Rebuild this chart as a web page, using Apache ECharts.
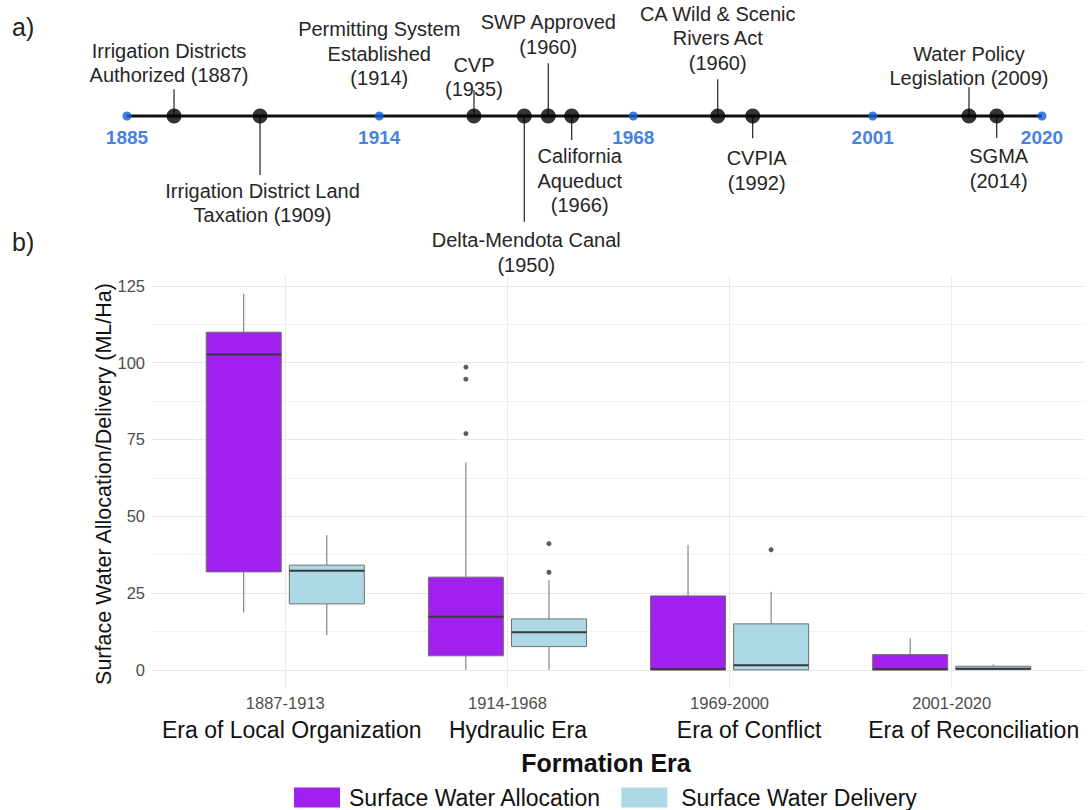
<!DOCTYPE html>
<html>
<head>
<meta charset="utf-8">
<script src="https://cdn.jsdelivr.net/npm/echarts@6/dist/echarts.min.js"></script>
<style>
	html, body { margin: 0; padding: 0; background: #fff; }
	#chart { width: 1088px; height: 810px; }
</style>
</head>
<body>
<div id="chart"></div>
<script>
// ---- panel a: timeline (positions are schematic, 0-100 along the line) ----
var anchorYears = ['1885', '1914', '1968', '2001', '2020'];
var anchorPos = [0, 27.57, 55.33, 81.5, 100];
var anchorNotes = ['', 'Permitting System\nEstablished\n(1914)', '', '', ''];

var eventLabels = [
	'Irrigation Districts\nAuthorized (1887)',
	'Irrigation District Land\nTaxation (1909)',
	'CVP\n(1935)',
	'Delta-Mendota Canal\n(1950)',
	'SWP Approved\n(1960)',
	'California\nAqueduct\n(1966)',
	'CA Wild & Scenic\nRivers Act\n(1960)',
	'CVPIA\n(1992)',
	'Water Policy\nLegislation (2009)',
	'SGMA\n(2014)'
];
var eventPos = [5.14, 14.54, 37.92, 43.42, 46.04, 48.6, 64.56, 68.38, 92.02, 95.05];

// ---- panel b: boxplots ----
var eraRanges = ['1887-1913', '1914-1968', '1969-2000', '2001-2020'];
var eraNames = ['Era of Local Organization', 'Hydraulic Era', 'Era of Conflict', 'Era of Reconciliation'];
// [min, Q1, median, Q3, max]
var allocationBoxes = [
	[18.7, 31.9, 102.6, 109.9, 122.4],
	[0, 4.6, 17.3, 30.2, 67.5],
	[0, 0, 0.2, 24.1, 40.7],
	[0, 0, 0.2, 5.0, 10.3]
];
var deliveryBoxes = [
	[11.3, 21.5, 32.3, 34.1, 43.9],
	[0, 7.6, 12.3, 16.6, 29.2],
	[0, 0, 1.5, 15.0, 25.4],
	[0, 0.1, 0.4, 1.2, 1.8]
];
var allocationOutliers = [[], [98.5, 94.6, 76.9], [], []];
var deliveryOutliers = [[], [41.1, 31.8], [39.1], []];
var yTicks = [0, 25, 50, 75, 100, 125];
var yGrid = [0, 12.5, 25, 37.5, 50, 62.5, 75, 87.5, 100, 112.5, 125];

// layout / style (not data)
var FONT = "'Liberation Sans', Arial, sans-serif";
var DODGE = 0.187, BOX_HALF = 0.1688;
var LINE_H = 24.5;
var BLUE = '#0f5fd8';
// [dx, connector end (px from line), text edge (px from line)]
var eventLayout = [
	[-5, -26.7, -28.7], [2.5, 59, 62.5], [0, -26, -14.5], [2, 105.7, 111.8], [0, -52.7, -57],
	[8, 24, 27.8], [0, -36.7, -41], [4, 22.3, 30], [0, -28.7, -25.5], [2, 22, 27.8]
];
var noteLayout = [null, [0, 0, -25.5], null, null, null];
// era names sit a little right of the tick in the original
var eraNamePad = [13, 21, 39, 44];

function labelRenderer(texts, layout) {
	return function(params, api) {
		var lay = layout[params.dataIndex];
		if (!lay) return null;
		var p = api.coord([api.value(0), 0]);
		var up = lay[2] < 0;
		var children = [];
		if (lay[1] !== 0) {
			children.push({ type: 'line', shape: { x1: p[0], y1: p[1], x2: p[0], y2: p[1] + lay[1] },
				style: { stroke: '#222', lineWidth: 1.2 } });
		}
		children.push({ type: 'text', x: p[0] + lay[0], y: p[1] + lay[2],
			style: { text: texts[params.dataIndex], align: 'center', verticalAlign: up ? 'bottom' : 'top',
				fontSize: 20, fontFamily: FONT, lineHeight: LINE_H, fill: '#262626' } });
		return { type: 'group', children: children };
	};
}

function boxRenderer(dodge, fill) {
	return function(params, api) {
		var x = api.value(0) + dodge;
		var lo = api.coord([x, api.value(1)]);
		var q1 = api.coord([x, api.value(2)]);
		var md = api.coord([x, api.value(3)]);
		var q3 = api.coord([x, api.value(4)]);
		var hi = api.coord([x, api.value(5)]);
		var l = api.coord([x - BOX_HALF, 0])[0];
		var r = api.coord([x + BOX_HALF, 0])[0];
		var wStyle = { stroke: '#6e6e6e', lineWidth: 1 };
		return { type: 'group', children: [
			{ type: 'line', shape: { x1: hi[0], y1: hi[1], x2: q3[0], y2: q3[1] }, style: wStyle },
			{ type: 'line', shape: { x1: q1[0], y1: q1[1], x2: lo[0], y2: lo[1] }, style: wStyle },
			{ type: 'rect', shape: { x: l, y: q3[1], width: r - l, height: Math.max(q1[1] - q3[1], 1) },
				style: { fill: fill, stroke: '#707070', lineWidth: 1 } },
			{ type: 'line', shape: { x1: l, y1: md[1], x2: r, y2: md[1] }, style: { stroke: '#383838', lineWidth: 2 } }
		] };
	};
}

function outlierPoints(list, dodge) {
	var pts = [];
	list.forEach(function(vals, i) {
		vals.forEach(function(v) { pts.push([i + 1 + dodge, v]); });
	});
	return pts;
}

var eraRich = { a: { fontSize: 16.5, color: '#4d4d4d', lineHeight: 24, fontFamily: FONT } };
eraNamePad.forEach(function(pad, i) {
	eraRich['b' + i] = { fontSize: 23, color: '#111', lineHeight: 30, fontFamily: FONT, padding: [0, 0, 0, pad] };
});

var chart = echarts.init(document.getElementById('chart'), null, { renderer: 'svg' });

var option = {
	animation: false,
	textStyle: { fontFamily: FONT },
	grid: [
		{ left: 152, width: 933, top: 275, height: 413.7 },
		{ left: 127, width: 915, top: 0, height: 232 }
	],
	xAxis: [
		{ type: 'value', gridIndex: 0, min: 0.4, max: 4.6,
			axisLine: { show: false },
			axisTick: { show: false, customValues: [1, 2, 3, 4] },
			axisLabel: { customValues: [1, 2, 3, 4], margin: 2,
				formatter: function(v) { var i = Math.round(v) - 1; return '{a|' + eraRanges[i] + '}\n{b' + i + '|' + eraNames[i] + '}'; },
				rich: eraRich },
			splitLine: { show: true, lineStyle: { color: '#ebebeb', width: 1 } } },
		{ type: 'value', gridIndex: 1, min: 0, max: 100, show: false }
	],
	yAxis: [
		{ type: 'value', gridIndex: 0, min: -6.1, max: 128.5,
			axisLine: { show: false },
			axisTick: { show: false, customValues: yGrid },
			axisLabel: { customValues: yTicks, fontSize: 16.5, color: '#4d4d4d', margin: 7, fontFamily: FONT },
			splitLine: { show: true, lineStyle: { color: ['#e9e9e9', '#f2f2f2'], width: 1 } } },
		{ type: 'value', gridIndex: 1, min: -1, max: 1, show: false }
	],
	legend: {
		data: [
			{ name: 'Surface Water Allocation', textStyle: { padding: [0, 0, 0, 4] } },
			{ name: 'Surface Water Delivery', textStyle: { padding: [0, 0, 0, 9] } }
		],
		left: 289, top: 781, padding: 5, icon: 'rect', itemWidth: 46, itemHeight: 20, itemGap: 20,
		textStyle: { fontSize: 23, color: '#111', fontFamily: FONT },
		itemStyle: { borderWidth: 0 }
	},
	graphic: [
		{ type: 'text', left: 12, top: 14, style: { text: 'a)', fontSize: 25, fontFamily: FONT, fill: '#222' } },
		{ type: 'text', left: 12, top: 229, style: { text: 'b)', fontSize: 25, fontFamily: FONT, fill: '#222' } },
		{ type: 'text', x: 104, y: 484, rotation: Math.PI / 2,
			style: { text: 'Surface Water Allocation/Delivery (ML/Ha)', fontSize: 21.5, fontFamily: FONT, fill: '#111',
				align: 'center', verticalAlign: 'middle' } },
		{ type: 'text', x: 606, y: 763, style: { text: 'Formation Era', fontSize: 25, fontWeight: 'bold', fontFamily: FONT,
			fill: '#111', align: 'center', verticalAlign: 'middle' } }
	],
	series: [
		{ name: 'Surface Water Allocation', type: 'custom', xAxisIndex: 0, yAxisIndex: 0,
			itemStyle: { color: '#A020F0' },
			encode: { x: 0, y: [1, 2, 3, 4, 5] },
			data: allocationBoxes.map(function(b, i) { return [i + 1].concat(b); }),
			renderItem: boxRenderer(-DODGE, '#A020F0') },
		{ name: 'Surface Water Delivery', type: 'custom', xAxisIndex: 0, yAxisIndex: 0,
			itemStyle: { color: '#ADD8E6' },
			encode: { x: 0, y: [1, 2, 3, 4, 5] },
			data: deliveryBoxes.map(function(b, i) { return [i + 1].concat(b); }),
			renderItem: boxRenderer(DODGE, '#ADD8E6') },
		{ name: 'outliers', type: 'scatter', xAxisIndex: 0, yAxisIndex: 0, symbolSize: 5,
			itemStyle: { color: '#333' }, silent: true,
			data: outlierPoints(allocationOutliers, -DODGE).concat(outlierPoints(deliveryOutliers, DODGE)) },

		// timeline
		{ name: 'timeline', type: 'line', xAxisIndex: 1, yAxisIndex: 1, z: 2, symbol: 'none', silent: true,
			lineStyle: { color: '#111', width: 3 },
			data: anchorPos.map(function(p) { return [p, 0]; }) },
		{ name: 'eventLabels', type: 'custom', xAxisIndex: 1, yAxisIndex: 1, z: 1, silent: true,
			data: eventPos.map(function(p) { return [p, 0]; }),
			renderItem: labelRenderer(eventLabels, eventLayout) },
		{ name: 'noteLabels', type: 'custom', xAxisIndex: 1, yAxisIndex: 1, z: 1, silent: true,
			data: anchorPos.map(function(p) { return [p, 0]; }),
			renderItem: labelRenderer(anchorNotes, noteLayout) },
		{ name: 'events', type: 'scatter', xAxisIndex: 1, yAxisIndex: 1, z: 3, symbolSize: 15, silent: true,
			itemStyle: { color: '#000' },
			data: eventPos.map(function(p) { return [p, 0]; }) },
		{ name: 'anchors', type: 'scatter', xAxisIndex: 1, yAxisIndex: 1, z: 3, symbolSize: 9, silent: true,
			itemStyle: { color: BLUE },
			label: { show: true, position: 'bottom', distance: 7, fontSize: 19, fontWeight: 'bold', color: BLUE,
				fontFamily: FONT, formatter: function(p) { return anchorYears[p.dataIndex]; } },
			data: anchorPos.map(function(p) { return [p, 0]; }) }
	]
};

chart.setOption(option);
</script>
</body>
</html>
